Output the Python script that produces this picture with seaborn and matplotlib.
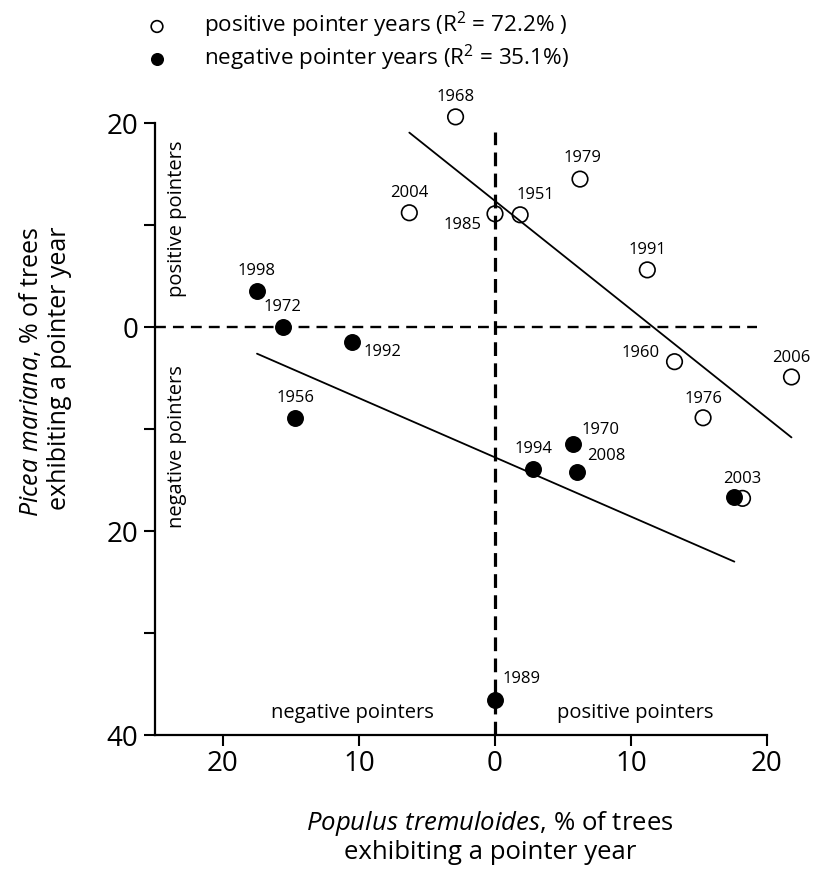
import matplotlib
matplotlib.use("Agg")
import matplotlib.pyplot as plt
import seaborn as sns

# ---------------- data ----------------
pos_years = ["1968", "2004", "1985", "1951", "1979", "1991", "1960", "2006", "1976", "2003"]
pos_x = [-2.9, -6.3, 0.0, 1.85, 6.25, 11.2, 13.2, 21.8, 15.3, 18.2]
pos_y = [20.6, 11.2, 11.1, 11.0, 14.5, 5.6, -3.4, -4.9, -8.9, -16.8]

neg_years = ["1998", "1972", "1992", "1956", "1970", "1994", "2008", "2003", "1989"]
neg_x = [-17.5, -15.6, -10.5, -14.7, 5.7, 2.8, 6.0, 17.6, 0.0]
neg_y = [3.5, 0.0, -1.5, -8.9, -11.5, -13.9, -14.2, -16.7, -36.6]

xticks = [-20, -10, 0, 10, 20]
xticklabels = ["20", "10", "0", "10", "20"]
yticks = [20, 10, 0, -10, -20, -30, -40]
yticklabels = ["20", "", "0", "", "20", "", "40"]

legend_labels = ["positive pointer years ($\\mathregular{R^2}$ = 72.2% )",
                 "negative pointer years ($\\mathregular{R^2}$ = 35.1%)"]
xlabel = "$\\mathit{Populus\\ tremuloides}$, % of trees\nexhibiting a pointer year"
ylabel = "$\\mathit{Picea\\ mariana}$, % of trees\nexhibiting a pointer year"
quadrant_texts = ["positive pointers", "negative pointers"]

# label offsets (pixels, style only)
pos_offsets = {"1968": (0, 20), "2004": (0, 20), "1985": (-32, -11), "1951": (15, 20),
               "1979": (2, 21), "1991": (0, 20), "1960": (-34, 9), "2006": (0, 19),
               "1976": (0, 19), "2003": (0, 19)}
neg_offsets = {"1998": (0, 20), "1972": (0, 20), "1992": (30, -10), "1956": (0, 20),
               "1970": (28, 14), "1994": (0, 20), "2008": (30, 16), "1989": (27, 21)}

# ---------------- style ----------------
sns.set_theme(style="ticks")
plt.rcParams["font.family"] = ["Open Sans", "DejaVu Sans"]
plt.rcParams.update({
    "mathtext.fontset": "custom",
    "mathtext.rm": "Open Sans",
    "mathtext.it": "Open Sans:italic",
    "text.color": "black",
    "axes.edgecolor": "black",
    "xtick.color": "black",
    "ytick.color": "black",
    "axes.labelcolor": "black",
})

W, H = 815, 874
fig = plt.figure(figsize=(W / 100, H / 100), dpi=100)
ax = fig.add_axes([155 / W, 139 / H, 652.8 / W, 632.4 / H])
ax.set_xlim(-25, 23)
ax.set_ylim(-40, 22)

# reference dashed lines
ax.axhline(0, xmin=0, xmax=(19.3 + 25) / 48, color="black", lw=1.7,
           dashes=(4.6, 3.0), zorder=1)
ax.axvline(0, ymin=0, ymax=(19.1 + 40) / 62, color="black", lw=2.3,
           dashes=(4.3, 2.3), zorder=1)

# regressions + points
sns.regplot(x=pos_x, y=pos_y, ci=None, ax=ax, color="black", label=legend_labels[0],
            scatter_kws=dict(s=125, facecolors="none", edgecolors="black",
                             linewidths=1.2, alpha=1, zorder=3, clip_on=False),
            line_kws=dict(lw=1.3, zorder=2))
sns.regplot(x=neg_x, y=neg_y, ci=None, ax=ax, color="black", label=legend_labels[1],
            scatter_kws=dict(s=125, facecolors="black", edgecolors="black",
                             linewidths=1.0, alpha=1, zorder=4, clip_on=False),
            line_kws=dict(lw=1.3, zorder=2))

# year labels
done = set()
for yr, x, y in zip(pos_years, pos_x, pos_y):
    dx, dy = pos_offsets[yr]
    ax.annotate(yr, (x, y), xytext=(dx * 0.72, dy * 0.72), textcoords="offset points",
                ha="center", va="center", fontsize=12)
    done.add(yr)
for yr, x, y in zip(neg_years, neg_x, neg_y):
    if yr in done:
        continue
    dx, dy = neg_offsets[yr]
    ax.annotate(yr, (x, y), xytext=(dx * 0.72, dy * 0.72), textcoords="offset points",
                ha="center", va="center", fontsize=12)

# quadrant texts
qfs = 14.5
ax.text(-23.4, 10.6, quadrant_texts[0], rotation=90, ha="center", va="center", fontsize=qfs)
ax.text(-23.4, -11.7, quadrant_texts[1], rotation=90, ha="center", va="center", fontsize=qfs)
ax.text(-10.5, -37.8, quadrant_texts[1], ha="center", va="center", fontsize=qfs)
ax.text(10.3, -37.8, quadrant_texts[0], ha="center", va="center", fontsize=qfs)

# axes
sns.despine(ax=ax)
ax.spines["left"].set_bounds(-40, 20)
ax.spines["bottom"].set_bounds(-25, 20)
for s in ("left", "bottom"):
    ax.spines[s].set_linewidth(1.6)
ax.set_xticks(xticks)
ax.set_xticklabels(xticklabels)
ax.set_yticks(yticks)
ax.set_yticklabels(yticklabels)
ax.tick_params(direction="out", length=8, width=1.5, labelsize=20)
ax.tick_params(axis="x", pad=3)
ax.tick_params(axis="y", pad=4)

ax.set_xlabel(xlabel, fontsize=18.5, va="center", linespacing=1.15)
ax.xaxis.set_label_coords((490 - 155) / 652.8, -(837 - 735) / 632.4)
ax.set_ylabel(ylabel, fontsize=18, va="center", ha="center", multialignment="right",
              linespacing=1.15)
ax.yaxis.set_label_coords((45 - 155) / 652.8, (735 - 372) / 632.4)

leg = ax.legend(loc="upper left", bbox_to_anchor=(148 / W, 1 - 10 / H),
                bbox_transform=fig.transFigure, frameon=False, fontsize=16.2,
                handlelength=0.8, handletextpad=1.7, labelspacing=0.1,
                borderpad=0, borderaxespad=0, markerscale=0.75, scatterpoints=1)

fig.savefig("out.png", dpi=100)
